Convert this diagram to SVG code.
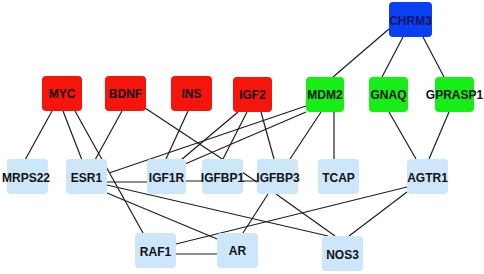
<svg xmlns="http://www.w3.org/2000/svg" width="484" height="274" viewBox="0 0 484 274">
<style>
.e{stroke:#1e1e1e;stroke-width:1.2;fill:none}
.n rect{rx:4;ry:4}
.red rect{fill:#f5150c}
.grn rect{fill:#17ee17}
.blu rect{fill:#0b3ff2}
.lb rect{fill:#cde6fa}
text{font-family:"Liberation Sans",Arial,sans-serif;font-weight:bold;font-size:12px;text-anchor:middle;fill:#111}
.blu text{fill:#141466}
</style>
<rect width="484" height="274" fill="#ffffff"/>
<g id="connectors">
<line class="e" x1="389" y1="29" x2="333" y2="77"/>
<line class="e" x1="403" y1="37" x2="382" y2="77"/>
<line class="e" x1="423" y1="37" x2="444" y2="77"/>
<line class="e" x1="389" y1="112" x2="416" y2="159"/>
<line class="e" x1="449" y1="112" x2="429" y2="159"/>
<line class="e" x1="334" y1="112" x2="334" y2="159"/>
<line class="e" x1="321" y1="112" x2="290" y2="159"/>
<line class="e" x1="261" y1="112" x2="274" y2="159"/>
<line class="e" x1="247" y1="112" x2="223" y2="159"/>
<line class="e" x1="238" y1="112" x2="181" y2="160"/>
<line class="e" x1="306" y1="112" x2="185" y2="164"/>
<line class="e" x1="306" y1="106" x2="109" y2="173"/>
<line class="e" x1="188" y1="111" x2="166" y2="159"/>
<line class="e" x1="145" y1="108" x2="257" y2="182"/>
<line class="e" x1="107" y1="182" x2="147" y2="182"/>
<line class="e" x1="186" y1="181" x2="257" y2="181"/>
<line class="e" x1="52" y1="111" x2="25" y2="160"/>
<line class="e" x1="63" y1="111" x2="82" y2="160"/>
<line class="e" x1="75" y1="111" x2="143" y2="233"/>
<line class="e" x1="122" y1="111" x2="95" y2="160"/>
<line class="e" x1="107" y1="185" x2="328" y2="236"/>
<line class="e" x1="107" y1="193" x2="222" y2="241"/>
<line class="e" x1="268" y1="194" x2="243" y2="233"/>
<line class="e" x1="276" y1="194" x2="335" y2="236"/>
<line class="e" x1="407" y1="187" x2="176" y2="244"/>
<line class="e" x1="407" y1="192" x2="349" y2="236"/>
<line class="e" x1="176" y1="254" x2="217" y2="254"/>
</g>
<g id="CHRM3" class="n blu"><rect x="389" y="2" width="43" height="35"/><text x="410.5" y="25">CHRM3</text></g>
<g id="MYC" class="n red"><rect x="42" y="76" width="40" height="35"/><text x="62" y="98">MYC</text></g>
<g id="BDNF" class="n red"><rect x="105" y="76" width="41" height="35"/><text x="125.5" y="98">BDNF</text></g>
<g id="INS" class="n red"><rect x="171" y="76" width="41" height="35"/><text x="191.5" y="98">INS</text></g>
<g id="IGF2" class="n red"><rect x="233" y="77" width="39" height="35"/><text x="252.5" y="99">IGF2</text></g>
<g id="MDM2" class="n grn"><rect x="306" y="77" width="38" height="35"/><text x="325" y="99">MDM2</text></g>
<g id="GNAQ" class="n grn"><rect x="369" y="77" width="39" height="35"/><text x="388.5" y="99">GNAQ</text></g>
<g id="GPRASP1" class="n grn"><rect x="435" y="77" width="39" height="35"/><text x="454.5" y="99">GPRASP1</text></g>
<g id="MRPS22" class="n lb"><rect x="7" y="159" width="41" height="35"/><text x="26" y="182">MRPS22</text></g>
<g id="ESR1" class="n lb"><rect x="66" y="159" width="41" height="35"/><text x="86.5" y="182">ESR1</text></g>
<g id="IGF1R" class="n lb"><rect x="147" y="159" width="39" height="35"/><text x="166.5" y="182">IGF1R</text></g>
<g id="IGFBP1" class="n lb"><rect x="202" y="159" width="41" height="35"/><text x="222.5" y="182">IGFBP1</text></g>
<g id="IGFBP3" class="n lb"><rect x="257" y="159" width="41" height="35"/><text x="278" y="182">IGFBP3</text></g>
<g id="TCAP" class="n lb"><rect x="318" y="159" width="41" height="35"/><text x="338.5" y="182">TCAP</text></g>
<g id="AGTR1" class="n lb"><rect x="407" y="159" width="41" height="35"/><text x="427.5" y="182">AGTR1</text></g>
<g id="RAF1" class="n lb"><rect x="135" y="233" width="41" height="35"/><text x="155.5" y="256">RAF1</text></g>
<g id="AR" class="n lb"><rect x="217" y="233" width="41" height="35"/><text x="237.5" y="255">AR</text></g>
<g id="NOS3" class="n lb"><rect x="322" y="236" width="41" height="35"/><text x="342.5" y="259">NOS3</text></g>
</svg>
